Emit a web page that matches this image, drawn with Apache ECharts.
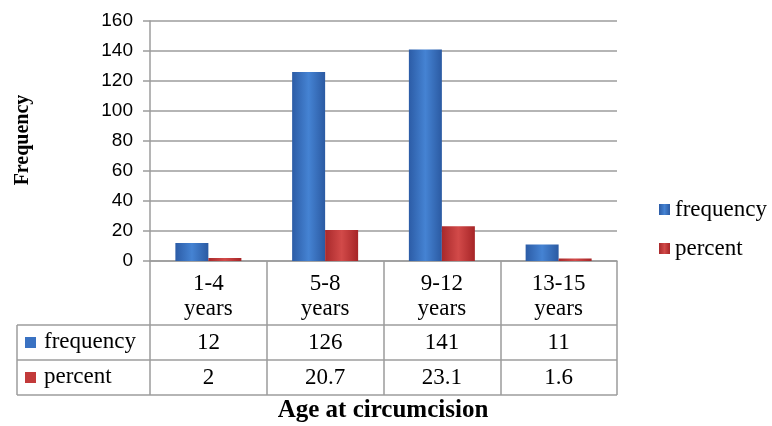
<!DOCTYPE html>
<html><head><meta charset="utf-8">
<script src="https://cdn.jsdelivr.net/npm/echarts@6/dist/echarts.min.js"></script>
<style>html,body{margin:0;padding:0;background:#fff}#c{width:772px;height:426px}</style>
</head><body><div id="c"></div>
<script>
var categories = ['1-4\nyears', '5-8\nyears', '9-12\nyears', '13-15\nyears'];
var seriesNames = ['frequency', 'percent'];
var frequency = [12, 126, 141, 11];
var percent = [2, 20.7, 23.1, 1.6];
var frequencyLabels = ['12', '126', '141', '11'];
var percentLabels = ['2', '20.7', '23.1', '1.6'];
var yTicks = [0, 20, 40, 60, 80, 100, 120, 140, 160];

var SERIF = '"Liberation Serif","Times New Roman",serif';
var SANS = '"Liberation Sans",Arial,sans-serif';
var GRID = '#9c9c9c';
function grad(a, b, c) {
  return new echarts.graphic.LinearGradient(0, 0, 1, 0, [
    {offset: 0, color: a}, {offset: 0.5, color: b}, {offset: 1, color: c}]);
}
var blue = grad('#2c5ca6', '#4583d3', '#2b5aa2');
var red = grad('#a8292b', '#d24a49', '#a62527');
var blueKey = '#3a72c2', redKey = '#c23a3a';

var chart = echarts.init(document.getElementById('c'));
var tableLine = {stroke: GRID, lineWidth: 1.5};
chart.setOption({
  animation: false,
  grid: {left: 150, right: 155, top: 21, bottom: 165},
  legend: {
    orient: 'vertical', left: 654, top: 193, itemWidth: 11, itemHeight: 11, itemGap: 16,
    icon: 'rect', data: seriesNames,
    textStyle: {fontFamily: SERIF, fontSize: 23, color: '#000'}
  },
  xAxis: [
    {type: 'category', data: categories, position: 'bottom',
     axisLine: {show: true, lineStyle: {color: GRID, width: 1.5}},
     axisTick: {show: true, length: 134, lineStyle: {color: GRID, width: 1.5}},
     axisLabel: {margin: 10, fontFamily: SERIF, fontSize: 23, lineHeight: 25, color: '#000'}},
    {type: 'category', data: frequencyLabels, position: 'bottom',
     axisLine: {show: false}, axisTick: {show: false},
     axisLabel: {margin: 70, fontFamily: SERIF, fontSize: 23, lineHeight: 23, color: '#000'}},
    {type: 'category', data: percentLabels, position: 'bottom',
     axisLine: {show: false}, axisTick: {show: false},
     axisLabel: {margin: 105, fontFamily: SERIF, fontSize: 23, lineHeight: 23, color: '#000'}}
  ],
  yAxis: {
    type: 'value', min: yTicks[0], max: yTicks[yTicks.length - 1], interval: 20,
    axisLine: {show: true, lineStyle: {color: GRID, width: 1.5}},
    axisTick: {show: true, length: 7, lineStyle: {color: GRID, width: 1.5}},
    splitLine: {show: true, lineStyle: {color: GRID, width: 1.5}},
    axisLabel: {margin: 17, fontFamily: SANS, fontSize: 19, color: '#000'}
  },
  series: [
    {name: seriesNames[0], type: 'bar', data: frequency, barWidth: 33, barGap: '0%',
     itemStyle: {color: blue}},
    {name: seriesNames[1], type: 'bar', data: percent, barWidth: 33,
     itemStyle: {color: red}}
  ],
  graphic: [
    {type: 'line', shape: {x1: 17, y1: 325, x2: 617, y2: 325}, style: tableLine},
    {type: 'line', shape: {x1: 17, y1: 360, x2: 617, y2: 360}, style: tableLine},
    {type: 'line', shape: {x1: 17, y1: 395, x2: 617, y2: 395}, style: tableLine},
    {type: 'line', shape: {x1: 17, y1: 325, x2: 17, y2: 395}, style: tableLine},
    {type: 'rect', shape: {x: 25, y: 337, width: 11, height: 11}, style: {fill: blueKey}},
    {type: 'rect', shape: {x: 25, y: 372, width: 11, height: 11}, style: {fill: redKey}},
    {type: 'text', x: 44, y: 342, style: {text: seriesNames[0], font: '23px ' + SERIF, fill: '#000', textVerticalAlign: 'middle'}},
    {type: 'text', x: 44, y: 377, style: {text: seriesNames[1], font: '23px ' + SERIF, fill: '#000', textVerticalAlign: 'middle'}},
    {type: 'text', x: 383, y: 411, style: {text: 'Age at circumcision', font: 'bold 25px ' + SERIF, fill: '#000', textAlign: 'center', textVerticalAlign: 'middle'}},
    {type: 'text', x: 23, y: 140, rotation: Math.PI / 2, style: {text: 'Frequency', font: 'bold 20px ' + SERIF, fill: '#000', textAlign: 'center', textVerticalAlign: 'middle'}}
  ]
});
</script>
</body></html>
